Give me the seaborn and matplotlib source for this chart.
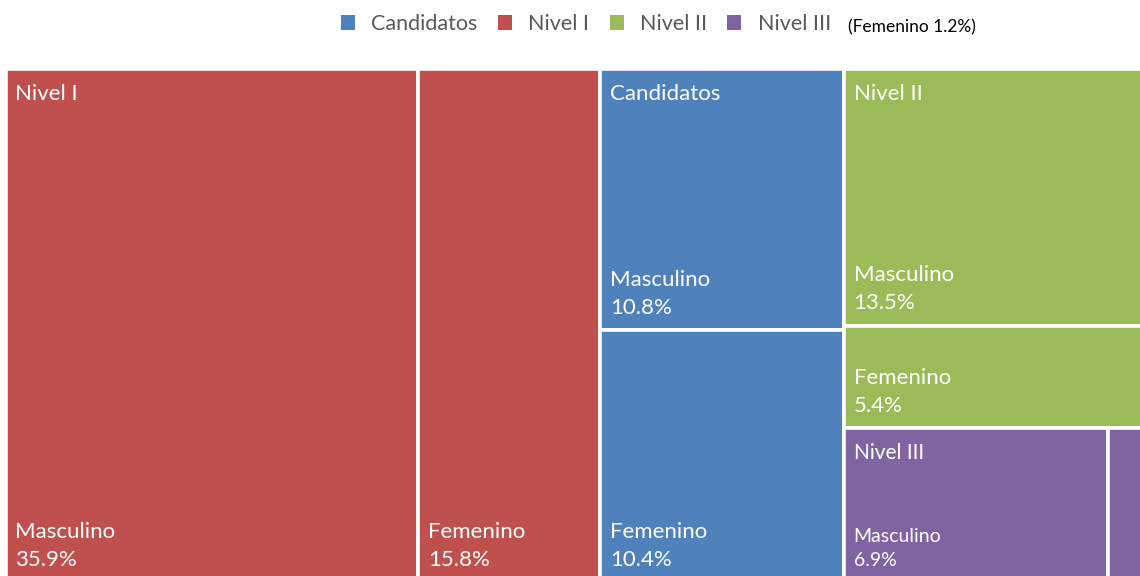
import numpy as np
import pandas as pd
import seaborn as sns
import matplotlib.pyplot as plt
from matplotlib.patches import Patch

# datos del treemap (porcentaje del total)
grupos = ['Nivel I', 'Candidatos', 'Nivel II', 'Nivel III']
masculino = [35.9, 10.8, 13.5, 6.9]
femenino = [15.8, 10.4, 5.4, 1.2]
colores = ['#C0504D', '#4F81BD', '#9BBB59', '#8064A2']
orden_leyenda = ['Candidatos', 'Nivel I', 'Nivel II', 'Nivel III']
nota = '(Femenino 1.2%)'


def calcula_rectangulos():
    """Reparte el area: Nivel I | Candidatos | (Nivel II sobre Nivel III)."""
    tot = [m + f for m, f in zip(masculino, femenino)]
    filas = []
    x = 0.0
    # Nivel I: dos columnas
    w_m = masculino[0]
    filas.append(('Nivel I', 'Masculino', masculino[0], x, 0.0, w_m, 1.0))
    filas.append(('Nivel I', 'Femenino', femenino[0], x + w_m, 0.0, femenino[0], 1.0))
    x += tot[0]
    # Candidatos: una columna dividida en vertical
    h_m = masculino[1] / tot[1]
    filas.append(('Candidatos', 'Masculino', masculino[1], x, 1 - h_m, tot[1], h_m))
    filas.append(('Candidatos', 'Femenino', femenino[1], x, 0.0, tot[1], 1 - h_m))
    x += tot[1]
    # ultima columna: Nivel II arriba, Nivel III abajo
    w = tot[2] + tot[3]
    h3 = tot[3] / w
    hm2 = masculino[2] / w
    hf2 = femenino[2] / w
    filas.append(('Nivel II', 'Masculino', masculino[2], x, 1 - hm2, w, hm2))
    filas.append(('Nivel II', 'Femenino', femenino[2], x, h3, w, hf2))
    wm3 = masculino[3] / tot[3] * w
    filas.append(('Nivel III', 'Masculino', masculino[3], x, 0.0, wm3, h3))
    filas.append(('Nivel III', 'Femenino', femenino[3], x + wm3, 0.0, w - wm3, h3))
    return pd.DataFrame(filas, columns=['grupo', 'sexo', 'valor', 'x', 'y', 'w', 'h'])


df = calcula_rectangulos()
color_de = dict(zip(grupos, colores))

sns.set_style('white')
plt.rcParams['font.family'] = ['Lato', 'DejaVu Sans']

fig = plt.figure(figsize=(11.4, 5.76), dpi=100)
ax = fig.add_axes([5.5 / 1140, -6 / 576, 1149 / 1140, 513 / 576])

ax.bar(df['x'], df['h'], width=df['w'], bottom=df['y'], align='edge',
       color=[color_de[g] for g in df['grupo']], edgecolor='white', linewidth=2.6)
ax.set_xlim(0, sum(masculino) + sum(femenino))
ax.set_ylim(0, 1)
ax.axis('off')

# etiqueta de grupo arriba a la izquierda
for g in grupos:
    sub = df[df['grupo'] == g]
    x0 = sub['x'].min()
    y1 = (sub['y'] + sub['h']).max()
    tam = 15 if g == 'Nivel III' else 16
    ax.annotate(g, (x0, y1), xytext=(7, -11), textcoords='offset points',
                ha='left', va='top', color='white', fontsize=tam)

# etiquetas de cada hoja abajo a la izquierda
for _, r in df.iterrows():
    if r['grupo'] == 'Nivel III' and r['sexo'] == 'Femenino':
        continue
    tam = 14 if r['grupo'] == 'Nivel III' else 16
    esp = 1.55 if r['grupo'] == 'Nivel III' else 1.5
    ax.annotate(f"{r['sexo']}\n{r['valor']:.1f}%", (r['x'], r['y']),
                xytext=(7, 9), textcoords='offset points', ha='left', va='bottom',
                color='white', fontsize=tam, linespacing=esp)

manejadores = [Patch(facecolor=color_de[g], edgecolor='none', label=g) for g in orden_leyenda]
fig.legend(handles=manejadores, loc='center', bbox_to_anchor=(586 / 1140, 1 - 24 / 576),
           ncol=4, frameon=False, fontsize=15.5, labelcolor='#595959',
           handlelength=0.65, handleheight=0.65, handletextpad=0.75, columnspacing=0.95)
fig.text(848 / 1140, 1 - 27 / 576, nota, ha='left', va='center', fontsize=12.5, color='black')

fig.savefig('out.png', dpi=100)
